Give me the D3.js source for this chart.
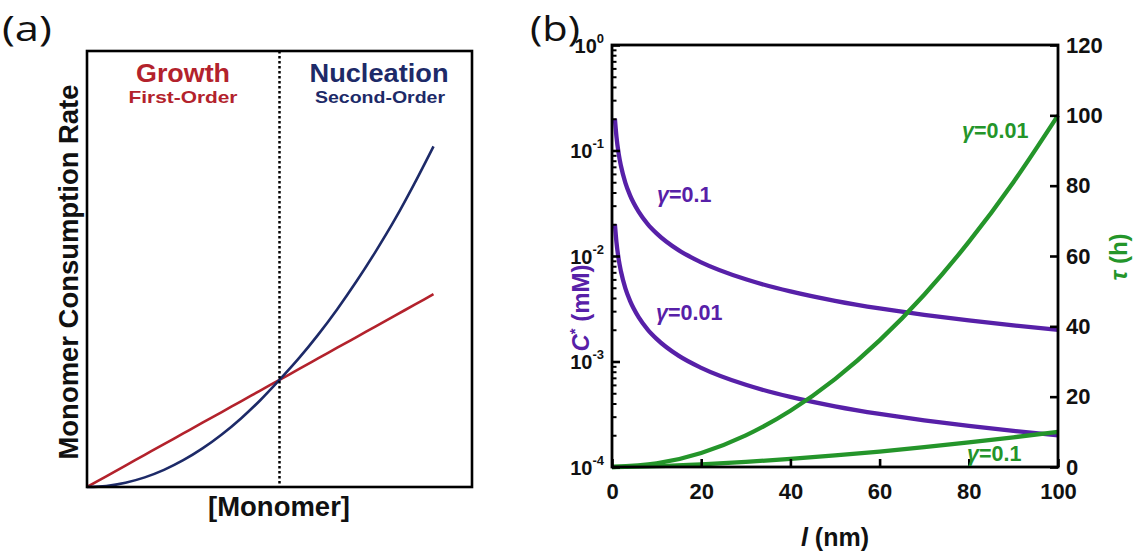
<!DOCTYPE html>
<html><head><meta charset="utf-8">
<script src="https://cdn.jsdelivr.net/npm/d3@7"></script>
<style>body{margin:0;background:#fff;} svg{display:block;}</style>
</head><body>
<svg id="c" width="1141" height="556"></svg>
<script>
// ---------- Panel (a) data (schematic) ----------
const monomerX = [0,0.1,0.2,0.3,0.4,0.5,0.6,0.7,0.8,0.9,1.0,1.1,1.2,1.3,1.4,1.5,1.6,1.7,1.8];
const growthRate = [0,0.1,0.2,0.3,0.4,0.5,0.6,0.7,0.8,0.9,1.0,1.1,1.2,1.3,1.4,1.5,1.6,1.7,1.8];
const nucleationRate = [0,0.01,0.04,0.09,0.16,0.25,0.36,0.49,0.64,0.81,1.0,1.2,1.42,1.66,1.92,2.2,2.5,2.83,3.18];

// ---------- Panel (b) data ----------
const lC = [0.65,1,1.5,2,3,4,6,8,10,15,20,30,40,50,60,70,80,90,100];
const cStarG01 = [0.2,0.135,0.0931,0.0716,0.0494,0.038,0.0262,0.0201,0.0164,0.0113,0.00871,0.00601,0.00462,0.00376,0.00318,0.00277,0.00245,0.0022,0.002];
const cStarG001 = [0.02,0.0135,0.00931,0.00716,0.00494,0.0038,0.00262,0.00201,0.00164,0.00113,0.000871,0.000601,0.000462,0.000376,0.000318,0.000277,0.000245,0.00022,0.0002];
const lT = [0,10,20,30,40,50,60,70,80,90,100];
const tauG001 = [0,1,4,9,16,25,36,49,64,81,100];
const tauG01 = [0,0.25,0.76,1.46,2.3,3.3,4.4,5.65,7.0,8.45,10];
const xTicksB = [0,20,40,60,80,100];
const yTicksR = [0,20,40,60,80,100,120];
const logExps = [0,-1,-2,-3,-4];

const svg = d3.select("#c");
const FONT = "'Liberation Sans', Arial, sans-serif";
const RED = "#b3222c", NAVY = "#1d2a68", PURPLE = "#5720a8", GREEN = "#24952a";

function txt(g, x, y, s, size, col, opts={}) {
  const t = g.append("text").attr("x",x).attr("y",y).attr("font-family",FONT).attr("font-weight","bold")
    .attr("font-size",size).attr("fill",col).attr("text-anchor",opts.anchor||"middle").text(s);
  if (opts.len) t.attr("textLength",opts.len).attr("lengthAdjust","spacingAndGlyphs");
  return t;
}

// ---------- Panel (a) ----------
const A = {l:87, r:472, t:51, b:487};
const xa = d3.scaleLinear().domain([0,2]).range([A.l, A.r]);
const ya = d3.scaleLinear().domain([0,4.07]).range([A.b, A.t]);
const ga = svg.append("g");
const lineA = (ys) => d3.line().x((d,i)=>xa(monomerX[i])).y((d)=>ya(d)).curve(d3.curveMonotoneX)(ys);
ga.append("path").attr("d", lineA(growthRate)).attr("fill","none").attr("stroke",RED).attr("stroke-width",2.6);
ga.append("path").attr("d", lineA(nucleationRate)).attr("fill","none").attr("stroke",NAVY).attr("stroke-width",2.6);
ga.append("line").attr("x1",xa(1)).attr("x2",xa(1)).attr("y1",A.t).attr("y2",A.b)
  .attr("stroke","#000").attr("stroke-width",2.5).attr("stroke-dasharray","2.5,2.5");
ga.append("rect").attr("x",A.l).attr("y",A.t).attr("width",A.r-A.l).attr("height",A.b-A.t)
  .attr("fill","none").attr("stroke","#000").attr("stroke-width",2.6);
txt(ga,183,82,"Growth",26,RED,{len:94});
txt(ga,183,103,"First-Order",17,RED,{len:109});
txt(ga,379,82,"Nucleation",26,NAVY,{len:139});
txt(ga,380,103,"Second-Order",17,NAVY,{len:130});
ga.append("text").attr("transform",`translate(78,272) rotate(-90)`).attr("text-anchor","middle")
  .attr("font-family",FONT).attr("font-weight","bold").attr("font-size",27).attr("fill","#111")
  .attr("textLength",375).attr("lengthAdjust","spacingAndGlyphs")
  .text("Monomer Consumption Rate");
txt(ga,279,516,"[Monomer]",27,"#111",{len:142});
svg.append("text").attr("x",2).attr("y",41).attr("font-family","'Open Sans', sans-serif")
  .attr("font-size",34).attr("fill","#111").attr("textLength",50).attr("lengthAdjust","spacingAndGlyphs").text("(a)");
svg.append("text").attr("x",530).attr("y",41).attr("font-family","'Open Sans', sans-serif")
  .attr("font-size",34).attr("fill","#111").attr("textLength",50).attr("lengthAdjust","spacingAndGlyphs").text("(b)");

// ---------- Panel (b) ----------
const B = {l:612, r:1058, t:45, b:467};
const xb = d3.scaleLinear().domain([0,100]).range([B.l,B.r]);
const yl = d3.scaleLog().domain([1e-4,1]).range([B.b,B.t]);
const yr = d3.scaleLinear().domain([0,120]).range([B.b,B.t]);
const gb = svg.append("g");

const lineC = (ys) => d3.line().x((d,i)=>xb(lC[i])).y(d=>yl(d)).curve(d3.curveMonotoneX)(ys);
const lineT = (ys) => d3.line().x((d,i)=>xb(lT[i])).y(d=>yr(d)).curve(d3.curveMonotoneX)(ys);
gb.append("path").attr("d",lineC(cStarG01)).attr("fill","none").attr("stroke",PURPLE).attr("stroke-width",4.3);
gb.append("path").attr("d",lineC(cStarG001)).attr("fill","none").attr("stroke",PURPLE).attr("stroke-width",4.3);
gb.append("path").attr("d",lineT(tauG001)).attr("fill","none").attr("stroke",GREEN).attr("stroke-width",4.3);
gb.append("path").attr("d",lineT(tauG01)).attr("fill","none").attr("stroke",GREEN).attr("stroke-width",4.3);

// frame
gb.append("rect").attr("x",B.l).attr("y",B.t).attr("width",B.r-B.l).attr("height",B.b-B.t)
  .attr("fill","none").attr("stroke","#000").attr("stroke-width",2.8);

// bottom axis (inward ticks)
const xAx = gb.append("g").attr("transform",`translate(0,${B.b})`)
  .call(d3.axisBottom(xb).tickValues(xTicksB).tickSizeInner(-8).tickSizeOuter(0).tickPadding(16));
xAx.select(".domain").remove();
xAx.selectAll("line").attr("stroke","#000").attr("stroke-width",2.6);
xAx.selectAll("text").attr("font-family",FONT).attr("font-weight","bold").attr("font-size",22).attr("fill","#111");

// right axis
const rAx = gb.append("g").attr("transform",`translate(${B.r},0)`)
  .call(d3.axisRight(yr).tickValues(yTicksR).tickSizeInner(-8).tickSizeOuter(0).tickPadding(8));
rAx.select(".domain").remove();
rAx.selectAll("line").attr("stroke","#000").attr("stroke-width",2.6);
rAx.selectAll("text").attr("font-family",FONT).attr("font-weight","bold").attr("font-size",22).attr("fill","#111");

// left log axis: minor + major ticks inward
const minorVals = [];
for (let e=-4; e<0; e++) for (let m=2; m<=9; m++) minorVals.push(m*Math.pow(10,e));
const lAx = gb.append("g").attr("transform",`translate(${B.l},0)`)
  .call(d3.axisLeft(yl).tickValues(minorVals).tickSizeInner(-4.5).tickSizeOuter(0).tickFormat(""));
lAx.select(".domain").remove();
lAx.selectAll("line").attr("stroke","#000").attr("stroke-width",2);
const lMaj = gb.append("g").attr("transform",`translate(${B.l},0)`)
  .call(d3.axisLeft(yl).tickValues(logExps.map(e=>Math.pow(10,e))).tickSizeInner(-8).tickSizeOuter(0).tickFormat(""));
lMaj.select(".domain").remove();
lMaj.selectAll("line").attr("stroke","#000").attr("stroke-width",2.6);
logExps.forEach(e=>{
  const y = yl(Math.pow(10,e));
  const t = gb.append("text").attr("x",604).attr("y",y+7.5).attr("text-anchor","end")
    .attr("font-family",FONT).attr("font-weight","bold").attr("font-size",20).attr("fill","#111");
  t.append("tspan").text("10");
  t.append("tspan").attr("font-size",13).attr("dy",-10).text(e===0?"0":"-"+(-e));
});

// axis titles
const xt = gb.append("text").attr("x",(B.l+B.r)/2).attr("y",546).attr("text-anchor","middle")
  .attr("font-family",FONT).attr("font-weight","bold").attr("font-size",25).attr("fill","#111");
xt.append("tspan").attr("font-style","italic").text("l");
xt.append("tspan").text(" (nm)");

const lt = gb.append("text").attr("transform",`translate(589,308) rotate(-90)`).attr("text-anchor","middle")
  .attr("font-family",FONT).attr("font-weight","bold").attr("font-size",24).attr("fill",PURPLE);
lt.append("tspan").attr("font-style","italic").text("C");
lt.append("tspan").attr("font-size",15).attr("dy",-9).text("*");
lt.append("tspan").attr("dy",9).text(" (mM)");

const rt = gb.append("text").attr("transform",`translate(1127,257) rotate(-90)`).attr("text-anchor","middle")
  .attr("font-family",FONT).attr("font-weight","bold").attr("font-size",24).attr("fill",GREEN);
rt.append("tspan").attr("font-style","italic").text("τ");
rt.append("tspan").text(" (h)");

// curve labels
function gLabel(x,y,val,col){
  const t = gb.append("text").attr("x",x).attr("y",y).attr("font-family",FONT).attr("font-weight","bold")
    .attr("font-size",21.5).attr("fill",col);
  t.append("tspan").attr("font-style","italic").text("γ");
  t.append("tspan").text("="+val);
}
gLabel(657,202,"0.1",PURPLE);
gLabel(656,320,"0.01",PURPLE);
gLabel(962,138,"0.01",GREEN);
gLabel(967,461,"0.1",GREEN);
</script>
</body></html>
